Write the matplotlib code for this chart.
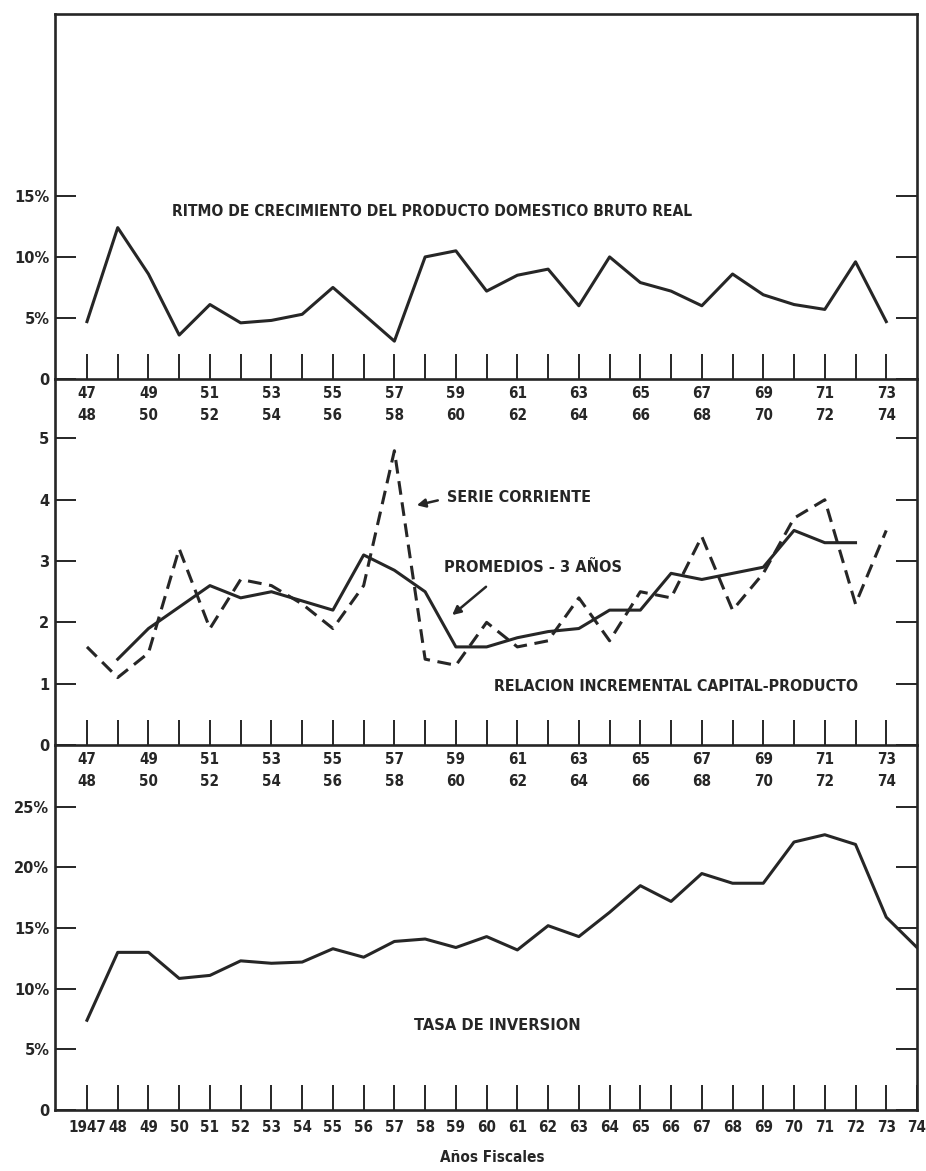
import os
import matplotlib
matplotlib.use("Agg")
import matplotlib.pyplot as plt
from matplotlib import font_manager
from matplotlib.font_manager import FontProperties

# ---------------- data ----------------
year_short = ['47', '48', '49', '50', '51', '52', '53', '54', '55', '56', '57', '58', '59', '60',
              '61', '62', '63', '64', '65', '66', '67', '68', '69', '70', '71', '72', '73', '74']
bottom_labels = ['1947'] + year_short[1:]

growth = [4.7, 12.4, 8.6, 3.6, 6.1, 4.6, 4.8, 5.3, 7.5, 5.3, 3.1, 10.0, 10.5, 7.2,
          8.5, 9.0, 6.0, 10.0, 7.9, 7.2, 6.0, 8.6, 6.9, 6.1, 5.7, 9.6, 4.7]

icor_current = [1.6, 1.1, 1.5, 3.2, 1.9, 2.7, 2.6, 2.3, 1.9, 2.6, 4.8, 1.4, 1.3, 2.0,
                1.6, 1.7, 2.4, 1.7, 2.5, 2.4, 3.4, 2.2, 2.8, 3.7, 4.0, 2.3, 3.5]

icor_avg = [1.4, 1.9, 2.25, 2.6, 2.4, 2.5, 2.35, 2.2, 3.1, 2.85, 2.5, 1.6, 1.6,
            1.75, 1.85, 1.9, 2.2, 2.2, 2.8, 2.7, 2.8, 2.9, 3.5, 3.3, 3.3]

investment = [7.4, 13.0, 13.0, 10.85, 11.1, 12.3, 12.1, 12.2, 13.3, 12.6, 13.9, 14.1, 13.4, 14.3,
              13.2, 15.2, 14.3, 16.3, 18.5, 17.2, 19.5, 18.7, 18.7, 22.1, 22.7, 21.9, 15.9, 13.4]

pct_ticks_top = [0, 5, 10, 15]
pct_labels_top = ['0', '5%', '10%', '15%']
icor_ticks = [0, 1, 2, 3, 4, 5]
icor_labels = ['0', '1', '2', '3', '4', '5']
pct_ticks_bot = [0, 5, 10, 15, 20, 25]
pct_labels_bot = ['0', '5%', '10%', '15%', '20%', '25%']

# ---------------- font: pick a condensed bold face if one is installed ----------------
prefs = ['notosans-extracondensedbold', 'notosans-condensedbold', 'dejavusanscondensed-bold',
         'robotocondensed-bold', 'liberationsansnarrow-bold', 'opensans-condensedbold',
         'opensans_condensed-bold', 'lato-bold']
files = {}
for f in font_manager.fontManager.ttflist:
    base = os.path.splitext(os.path.basename(f.fname))[0].lower()
    files.setdefault(base, f.fname)
chosen = None
for p in prefs:
    if p in files:
        chosen = files[p]
        break
if chosen is None:
    for base, path in files.items():
        if ('condensed' in base or 'narrow' in base) and 'bold' in base and 'italic' not in base \
                and 'oblique' not in base and 'semi' not in base:
            chosen = path
            break
FP = FontProperties(fname=chosen) if chosen else FontProperties(family='DejaVu Sans', weight='bold')

INK = '#262626'
LW = 2.2

fig = plt.figure(figsize=(9.26, 11.71), dpi=100)
W, H = 926, 1171
renderer = fig.canvas.get_renderer()


def fit_size(s, target_px):
    t = fig.text(0, 0, s, fontproperties=FP, fontsize=10)
    w = t.get_window_extent(renderer).width
    t.remove()
    return 10.0 * target_px / w


def fp(size):
    p = FP.copy()
    p.set_size(size)
    return p


left = 55 / W
width = (917 - 55) / W
bounds = [(14, 379), (379, 745), (745, 1110)]
axes = []
for k, (top, bot) in enumerate(bounds):
    ax = fig.add_axes([left, 1 - bot / H, width, (bot - top) / H])
    ax.set_facecolor('none')
    ax.set_zorder(10 - k)
    axes.append(ax)

n_top = len(growth)
x_top = list(range(n_top))
x_bot = list(range(len(investment)))

ysize = fit_size('15%', 35)
xsize = fit_size('1947', 38)


def style(ax, yticks, ylabels, ymax, top_spine=True):
    ax.set_xlim(-1.04, 27)
    ax.set_ylim(0, ymax)
    for s in ax.spines.values():
        s.set_linewidth(1.9)
        s.set_color(INK)
    ax.spines['top'].set_visible(top_spine)
    ax.set_yticks(yticks)
    ax.set_yticklabels(ylabels)
    for lab in ax.get_yticklabels():
        lab.set_fontproperties(fp(ysize))
    ax.tick_params(axis='y', direction='in', length=15, width=1.4, left=True, right=True,
                   pad=4, colors=INK)
    ax.tick_params(axis='x', direction='in', length=18, width=1.4, colors=INK)


def title(ax, x, y, s, target_px, ha):
    ax.text(x, y, s, ha=ha, va='center', fontproperties=fp(fit_size(s, target_px)), color=INK)


arrow = dict(arrowstyle='-|>,head_length=0.5,head_width=0.25', color=INK, lw=1.8)

# Panel 1
ax1 = axes[0]
style(ax1, pct_ticks_top, pct_labels_top, 29.9)
ax1.plot(x_top, growth, color=INK, lw=LW)
title(ax1, 11.22, 13.7, 'RITMO DE CRECIMIENTO DEL PRODUCTO DOMESTICO BRUTO REAL', 517, 'center')

# Panel 2
ax2 = axes[1]
style(ax2, icor_ticks, icor_labels, 5.97, top_spine=False)
ax2.plot(x_top, icor_current, color=INK, lw=LW, ls=(0, (4.5, 2.5)))
ax2.plot(x_top[1:1 + len(icor_avg)], icor_avg, color=INK, lw=LW)
title(ax2, 11.71, 4.03, 'SERIE CORRIENTE', 142, 'left')
ax2.annotate('', xy=(10.64, 3.9), xytext=(11.5, 4.0), arrowprops=arrow)
title(ax2, 11.61, 2.89, 'PROMEDIOS - 3 AÑOS', 177, 'left')
ax2.annotate('', xy=(11.81, 2.09), xytext=(13.05, 2.61), arrowprops=arrow)
title(ax2, 19.16, 0.95, 'RELACION INCREMENTAL CAPITAL-PRODUCTO', 364, 'center')

# Panel 3
ax3 = axes[2]
style(ax3, pct_ticks_bot, pct_labels_bot, 30.1, top_spine=False)
ax3.plot(x_bot, investment, color=INK, lw=LW)
title(ax3, 13.34, 7.0, 'TASA DE INVERSION', 166, 'center')

# x tick labels
pair_labels = []
for i in range(n_top):
    if i % 2 == 0:
        pair_labels.append(year_short[i] + '\n' + year_short[i + 1])
    else:
        pair_labels.append('')
for ax in (ax1, ax2):
    ax.set_xticks(x_top)
    ax.set_xticklabels(pair_labels, linespacing=1.55)
    for lab in ax.get_xticklabels():
        lab.set_fontproperties(fp(xsize))
    ax.tick_params(axis='x', pad=5)
ax3.set_xticks(x_bot)
ax3.set_xticklabels(bottom_labels)
for lab in ax3.get_xticklabels():
    lab.set_fontproperties(fp(xsize))
ax3.tick_params(axis='x', pad=7)

fig.text(492 / W, 1 - 1158 / H, 'Años Fiscales', ha='center', va='center',
         fontproperties=fp(fit_size('Años Fiscales', 104)), color=INK)

fig.savefig('out.png', dpi=100, facecolor='white')
